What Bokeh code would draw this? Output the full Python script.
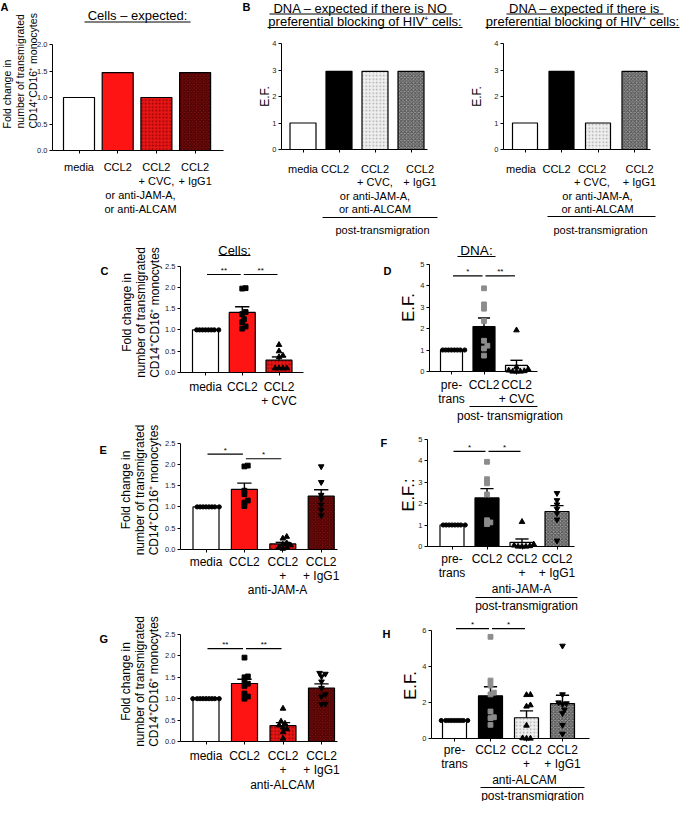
import math
from bokeh.plotting import figure
from bokeh.models import Range1d, FixedTicker, PrintfTickFormatter, ColumnDataSource
from bokeh.layouts import row, column
from bokeh.core.properties import value, field
from bokeh.embed import file_html
from bokeh.resources import INLINE

FONT = "Liberation Sans"

# ---------------- data ----------------
A_VALUES = [1.0, 1.47, 1.0, 1.47]          # cells expected
B_NO_PREF = [1.0, 2.95, 2.95, 2.95]        # DNA expected, no preferential blocking
B_PREF = [1.0, 2.95, 1.0, 2.95]            # DNA expected, preferential blocking

C_MEDIA = [1.0] * 8
C_CCL2 = [1.98, 1.97, 1.42, 1.37, 1.25, 1.18, 1.08, 1.03]
C_CVC = [0.65, 0.50, 0.40, 0.36, 0.10, 0.10, 0.10, 0.10]

D_PRE = [1.0] * 8
D_CCL2 = [3.87, 3.12, 2.92, 2.35, 1.43, 1.20, 1.07, 0.74]
D_CVC = [1.92, 0.20, 0.10, 0.05, 0.02, 0.0, 0.0, 0.0]

E_MEDIA = [1.0] * 8
E_CCL2 = [1.97, 1.95, 1.38, 1.30, 1.15, 1.10, 1.02]
E_JAMA = [0.30, 0.26, 0.15, 0.12, 0.10, 0.05, 0.05, 0.02]
E_IGG1 = [1.95, 1.58, 1.28, 1.18, 1.05, 0.93, 0.80]

F_PRE = [1.0] * 8
F_CCL2 = [3.94, 3.13, 2.94, 2.42, 1.22, 1.12, 1.04]
F_JAMA = [1.15, 0.10, 0.05, 0.02, 0.0, 0.0, 0.0]
F_IGG1 = [2.48, 2.15, 1.95, 1.75, 1.55, 1.25, 0.27]

G_MEDIA = [1.0] * 9
G_CCL2 = [1.96, 1.52, 1.50, 1.40, 1.35, 1.30, 1.12, 1.05, 1.00]
G_ALCAM = [0.77, 0.47, 0.42, 0.38, 0.33, 0.29, 0.22, 0.07]
G_IGG1 = [1.60, 1.58, 1.52, 1.40, 1.25, 1.10, 1.05, 0.88, 0.87]

H_PRE = [1.0] * 9
H_CCL2 = [5.65, 3.22, 2.94, 2.55, 2.45, 1.50, 1.18, 1.13, 0.76]
H_ALCAM = [2.43, 2.42, 1.85, 1.78, 0.72, 0.02, 0.0, 0.0]
H_IGG1 = [5.15, 2.45, 2.00, 1.95, 1.90, 1.60, 1.40, 0.75, 0.26]

# significance brackets: (from, to, height, label)
C_SIG = [(0, 1, 2.30, "**"), (1, 2, 2.30, "**")]
D_SIG = [(0, 1, 4.45, "*"), (1, 2, 4.45, "**")]
E_SIG = [(0, 1, 2.24, "*"), (1, 2, 2.13, "*")]
F_SIG = [(0, 1, 4.42, "*"), (1, 2, 4.42, "*")]
G_SIG = [(0, 1, 2.17, "**"), (1, 2, 2.17, "**")]
H_SIG = [(0, 1, 6.10, "*"), (1, 2, 6.10, "*")]

# tick values
CELL_TICKS_A = [0.0, 0.5, 1.0, 1.5, 2.0]
CELL_TICKS = [0.0, 0.5, 1.0, 1.5, 2.0, 2.5]
DNA_TICKS_B = [0, 1, 2, 3, 4]
DNA_TICKS = [0, 1, 2, 3, 4, 5]
DNA_TICKS_H = [0, 2, 4, 6]

# category labels
A_LABELS = [["media"], ["CCL2"], ["CCL2", "+ CVC,"], ["CCL2", "+ IgG1"]]
B_LABELS = [["media"], ["CCL2"], ["CCL2", "+ CVC,"], ["CCL2", "+ IgG1"]]
BLOCK_LINES = ["or anti-JAM-A,", "or anti-ALCAM"]
C_LABELS = [["media"], ["CCL2"], ["CCL2", "+ CVC"]]
D_LABELS = [["pre-", "trans"], ["CCL2"], ["CCL2", "+ CVC"]]
E_LABELS = [["media"], ["CCL2"], ["CCL2", "+"], ["CCL2", "+ IgG1"]]
F_LABELS = [["pre-", "trans"], ["CCL2"], ["CCL2", "+"], ["CCL2", "+ IgG1"]]
YLAB_CELLS = ["Fold change in", "number of transmigrated", "CD14\u207aCD16\u207a monocytes"]

# ---------------- styles ----------------
CELL_FILL = ["white", "#ff1414", "#e51616", "#7e1010"]
CELL_HATCH = [" ", " ", "dot", "x"]
CELL_HCOL = ["white", "#ff1414", "#8f0000", "#420000"]
DNA_FILL = ["white", "black", "#efefef", "#9c9c9c"]
DNA_HATCH = [" ", " ", "dot", "x"]
DNA_HCOL = ["white", "black", "#a9a9a9", "#4e4e4e"]
MARKERS = ["circle", "square", "triangle", "inverted_triangle"]
MSIZE = [4.2, 4.8, 5.6, 5.6]


def make_fig(W, H, cx0, dx, y0, k):
    p = figure(width=W, height=H,
               x_range=Range1d(-cx0 / dx, (W - cx0) / dx),
               y_range=Range1d(-(H - y0) / k, y0 / k),
               output_backend="svg", toolbar_location=None, tools="",
               min_border=0, title_location=None)
    p.extra_x_ranges = {"px": Range1d(0, W)}
    p.extra_y_ranges = {"px": Range1d(H, 0)}
    p.outline_line_color = None
    p.xgrid.visible = False
    p.ygrid.visible = False
    p.background_fill_color = "white"
    p.border_fill_color = "white"
    return p


def setup_axes(p, cx0, dx, yax, xend, ymax, ticks, fmt, ncat):
    yx = (yax - cx0) / dx
    ya = p.yaxis[0]
    ya.fixed_location = yx
    ya.bounds = (0, ymax)
    ya.ticker = FixedTicker(ticks=ticks)
    ya.formatter = PrintfTickFormatter(format=fmt)
    ya.major_tick_in = 0
    ya.major_tick_out = 3
    ya.minor_tick_in = 0
    ya.minor_tick_out = 0
    ya.major_label_text_font = FONT
    ya.major_label_text_font_size = "7.5px"
    ya.major_label_text_color = "#222222"
    ya.major_label_standoff = 2
    ya.axis_line_color = "black"
    xa = p.xaxis[0]
    xa.fixed_location = 0
    xa.bounds = (yx, (xend - cx0) / dx)
    xa.ticker = FixedTicker(ticks=list(range(ncat)))
    xa.major_tick_in = 0
    xa.major_tick_out = 3
    xa.minor_tick_in = 0
    xa.minor_tick_out = 0
    xa.major_label_text_color = None
    xa.axis_line_color = "black"


def txt(p, x, y, s, size, align="center", baseline="middle", bold=False,
        angle=0.0, xr="px", yr="px", color="black", yoff=0):
    p.text(x=[x], y=[y], text=[s], text_font=value(FONT),
           text_font_size=value(f"{size}px"), text_align=align,
           text_baseline=baseline, text_color=color,
           text_font_style="bold" if bold else "normal", angle=angle,
           y_offset=yoff, x_range_name=xr, y_range_name=yr)


def hline(p, x0, x1, y, w=1.0):
    p.segment(x0=[x0], y0=[y], x1=[x1], y1=[y], line_color="black",
              line_width=w, x_range_name="px", y_range_name="px")


def mean(v):
    return sum(v) / len(v)


def sem(v):
    n = len(v)
    m = mean(v)
    if n < 2:
        return 0.0
    var = sum((a - m) ** 2 for a in v) / (n - 1)
    return math.sqrt(var / n)


def swarm(vals, kpx, dpx):
    step = 0.35 * dpx
    sep = 0.7 * dpx
    placed = []
    offs = [0.0] * len(vals)
    for i in sorted(range(len(vals)), key=lambda t: vals[t]):
        y = vals[i] * kpx
        n = 0
        while True:
            cand = 0.0 if n == 0 else ((n + 1) // 2) * step * (1 if n % 2 else -1)
            if all(math.hypot(cand - a, y - b) >= sep for a, b in placed):
                break
            n += 1
        placed.append((cand, y))
        offs[i] = cand
    return offs


def draw_bars(p, means, dx, bar_w, fills, hatches, hcols, hscale=3.5):
    n = len(means)
    src = ColumnDataSource(dict(x=list(range(n)), top=means, fill=fills[:n],
                                hp=hatches[:n], hc=hcols[:n]))
    p.vbar(x="x", top="top", bottom=0, width=bar_w / dx, source=src,
           fill_color=field("fill"), line_color="black", line_width=1.2,
           hatch_pattern=field("hp"), hatch_color=field("hc"),
           hatch_scale=hscale, hatch_weight=1.0)


def draw_err(p, means, sems, dx, cap_px):
    c = cap_px / dx / 2
    for i, (m, s) in enumerate(zip(means, sems)):
        if s <= 0:
            continue
        p.segment(x0=[i], y0=[m], x1=[i], y1=[m + s], line_color="black", line_width=1.4)
        p.segment(x0=[i - c], y0=[m + s], x1=[i + c], y1=[m + s], line_color="black", line_width=1.4)


def draw_points(p, groups, dx, k, colors, marker_idx):
    for i, vals in enumerate(groups):
        mi = marker_idx[i]
        offs = swarm(vals, k, MSIZE[mi])
        p.scatter(x=[i + o / dx for o in offs], y=vals, marker=MARKERS[mi],
                  size=MSIZE[mi], fill_color=colors[i], line_color=colors[i])


def draw_sig(p, sig, dx):
    g = 1.5 / dx
    for i, j, h, lab in sig:
        p.segment(x0=[i + g], y0=[h], x1=[j - g], y1=[h], line_color="black", line_width=1.2)
        txt(p, (i + j) / 2, h, lab, 8, xr="default", yr="default", yoff=-4)


def cat_labels(p, cx0, dx, labels, ys, size, offs=None):
    for i, lines in enumerate(labels):
        o = offs[i] if offs else 0
        for j, s in enumerate(lines):
            txt(p, cx0 + i * dx + o, ys[j], s, size)


def ylabel_rot(p, xs, yc, lines, size, align="center"):
    for x, s in zip(xs, lines):
        txt(p, x, yc, s, size, align=align, angle=math.pi / 2)


def data_panel(W, H, cx0, dx, y0, k, yax, xend, ymax, ticks, fmt, groups,
               fills, hatches, hcols, pcolors, midx, bar_w, sig):
    p = make_fig(W, H, cx0, dx, y0, k)
    setup_axes(p, cx0, dx, yax, xend, ymax, ticks, fmt, len(groups))
    means = [mean(g) for g in groups]
    sems = [sem(g) for g in groups]
    draw_bars(p, means, dx, bar_w, fills, hatches, hcols)
    draw_err(p, means, sems, dx, bar_w * 0.55)
    draw_points(p, groups, dx, k, pcolors, midx)
    draw_sig(p, sig, dx)
    return p


# ================= Row 1 =================
# Panel A
cx0, dx = 78.5, 38.7
pA = make_fig(238, 240, cx0, dx, 150, 53)
setup_axes(pA, cx0, dx, 52, 223, 2.0, CELL_TICKS_A, "%.1f", 4)
draw_bars(pA, A_VALUES, dx, 31, CELL_FILL, CELL_HATCH, CELL_HCOL)
txt(pA, 0, 0, "A", 11, align="left", baseline="top", bold=True)
txt(pA, 137, 14.5, "Cells \u2013 expected:", 13)
hline(pA, 84, 190, 21.5)
ylabel_rot(pA, [6, 19, 32], 128, YLAB_CELLS, 10.5, align="left")
cat_labels(pA, cx0, dx, A_LABELS, [166, 180], 11)
for j, s in enumerate(BLOCK_LINES):
    txt(pA, 140, 194 + 14 * j, s, 11)

# Panel B (no preferential blocking)
cx0, dx = 64.5, 36
pB1 = make_fig(230, 240, cx0, dx, 149, 26.5)
setup_axes(pB1, cx0, dx, 43, 189, 4, DNA_TICKS_B, "%d", 4)
draw_bars(pB1, B_NO_PREF, dx, 26, DNA_FILL, DNA_HATCH, DNA_HCOL)
txt(pB1, 4, 0, "B", 11, align="left", baseline="top", bold=True)
txt(pB1, 122, 7.5, "DNA \u2013 expected if there is NO", 13)
hline(pB1, 31, 214, 13.5)
txt(pB1, 126.5, 20.5, "preferential blocking of HIV\u207a cells:", 13)
hline(pB1, 29, 224, 27)
txt(pB1, 26, 96, "E.F.", 12, angle=math.pi / 2)
cat_labels(pB1, cx0, dx, B_LABELS, [168, 181.5], 11, offs=[0, -4, 0, 9])
for j, s in enumerate(BLOCK_LINES):
    txt(pB1, cx0 + 2 * dx, 195 + 13.5 * j, s, 11)
hline(pB1, 84, 199, 217, 1.2)
txt(pB1, 144, 229, "post-transmigration", 11)

# Panel B (preferential blocking)
cx0, dx = 56.5, 36.5
pB2 = make_fig(212, 240, cx0, dx, 149, 26.5)
setup_axes(pB2, cx0, dx, 35, 182, 4, DNA_TICKS_B, "%d", 4)
draw_bars(pB2, B_PREF, dx, 25, DNA_FILL, DNA_HATCH, DNA_HCOL)
txt(pB2, 116, 7.5, "DNA \u2013 expected if there is", 13)
hline(pB2, 38, 195, 13.5)
txt(pB2, 114, 20.5, "preferential blocking of HIV\u207a cells:", 13)
hline(pB2, 17, 211, 27)
txt(pB2, 8, 96, "E.F.", 12, angle=math.pi / 2)
cat_labels(pB2, cx0, dx, B_LABELS, [168, 181.5], 11, offs=[-4, -5, -6, 5])
for j, s in enumerate(BLOCK_LINES):
    txt(pB2, 129, 195 + 13.5 * j, s, 11)
hline(pB2, 79, 187, 216, 1.2)
txt(pB2, 132, 229, "post-transmigration", 11)

# ================= left column: C, E, G =================
cx0, dx, k = 205, 36.75, 42.6
pC = data_panel(364, 180, cx0, dx, 132, k, 180, 303, 2.5, CELL_TICKS, "%.1f",
                [C_MEDIA, C_CCL2, C_CVC], CELL_FILL, CELL_HATCH, CELL_HCOL,
                ["black", "black", "black"], [0, 1, 2], 26, C_SIG)
txt(pC, 100, 24, "C", 11, align="left", baseline="top", bold=True)
txt(pC, 234, 9.5, "Cells:", 13)
hline(pC, 218, 250, 15)
ylabel_rot(pC, [126, 140, 154], 72, YLAB_CELLS, 12)
cat_labels(pC, cx0, dx, C_LABELS, [146, 160], 12)

cx0, dx, k = 205.5, 38.4, 42.6
pE = data_panel(364, 190, cx0, dx, 129, k, 180, 337, 2.5, CELL_TICKS, "%.1f",
                [E_MEDIA, E_CCL2, E_JAMA, E_IGG1], CELL_FILL, CELL_HATCH, CELL_HCOL,
                ["black"] * 4, [0, 1, 2, 3], 26, E_SIG)
txt(pE, 99, 23, "E", 11, align="left", baseline="top", bold=True)
ylabel_rot(pE, [125, 139, 153], 69.5, YLAB_CELLS, 12)
cat_labels(pE, cx0, dx, E_LABELS, [141, 155], 12)
txt(pE, 277, 169, "anti-JAM-A", 12)

cx0, dx, k = 205.5, 38.5, 42.8
pG = data_panel(364, 191, cx0, dx, 131, k, 180, 337, 2.5, CELL_TICKS, "%.1f",
                [G_MEDIA, G_CCL2, G_ALCAM, G_IGG1], CELL_FILL, CELL_HATCH, CELL_HCOL,
                ["black"] * 4, [0, 1, 2, 3], 26, G_SIG)
txt(pG, 99, 22, "G", 11, align="left", baseline="top", bold=True)
ylabel_rot(pG, [125, 139, 153], 71, YLAB_CELLS, 12)
cat_labels(pG, cx0, dx, E_LABELS, [145, 159], 12)
txt(pG, 282, 174, "anti-ALCAM", 12)

# ================= right column: D, F, H =================
cx0, dx, k = 87, 32.5, 21.5
pD = data_panel(316, 188, cx0, dx, 131, k, 65, 173, 5, DNA_TICKS, "%d",
                [D_PRE, D_CCL2, D_CVC], DNA_FILL, DNA_HATCH, DNA_HCOL,
                ["black", "#8c8c8c", "black"], [0, 1, 2], 22, D_SIG)
txt(pD, 19, 24, "D", 11, align="left", baseline="top", bold=True)
txt(pD, 112, 10, "DNA:", 13.5)
hline(pD, 93, 131, 16)
txt(pD, 43, 67, "E.F.", 16.5, angle=math.pi / 2)
cat_labels(pD, cx0, dx, D_LABELS, [144, 158], 12)
hline(pD, 105, 173, 166, 1.2)
txt(pD, 145.5, 175, "post- transmigration", 12)

cx0, dx, k = 87.5, 35, 21.5
pF = data_panel(316, 187, cx0, dx, 118, k, 63, 210, 5, DNA_TICKS, "%d",
                [F_PRE, F_CCL2, F_JAMA, F_IGG1], DNA_FILL, DNA_HATCH, DNA_HCOL,
                ["black", "#8c8c8c", "black", "black"], [0, 1, 2, 3], 24, F_SIG)
txt(pF, 16, 8, "F", 11, align="left", baseline="top", bold=True)
txt(pF, 43, 66.5, "E.F.:", 16.5, angle=math.pi / 2)
cat_labels(pF, cx0, dx, F_LABELS, [130, 144], 12)
txt(pF, 157, 160, "anti-JAM-A", 12)
hline(pF, 111, 213, 169, 1.2)
txt(pF, 162, 177, "post-transmigration", 12)

cx0, dx, k = 90, 36, 18
pH = data_panel(316, 186, cx0, dx, 123, k, 67, 225, 6, DNA_TICKS_H, "%d",
                [H_PRE, H_CCL2, H_ALCAM, H_IGG1], DNA_FILL, DNA_HATCH, DNA_HCOL,
                ["black", "#8c8c8c", "black", "black"], [0, 1, 2, 3], 24, H_SIG)
txt(pH, 18, 12, "H", 11, align="left", baseline="top", bold=True)
txt(pH, 45, 70, "E.F.", 16.5, angle=math.pi / 2)
cat_labels(pH, cx0, dx, F_LABELS, [134, 148], 12)
txt(pH, 160, 164, "anti-ALCAM", 12)
hline(pH, 116, 220, 172, 1.2)
txt(pH, 168, 180, "post-transmigration", 12)

layout = column(row(pA, pB1, pB2),
                row(column(pC, pE, pG), column(pD, pF, pH)))
open("out.html", "w").write(file_html(layout, INLINE))
